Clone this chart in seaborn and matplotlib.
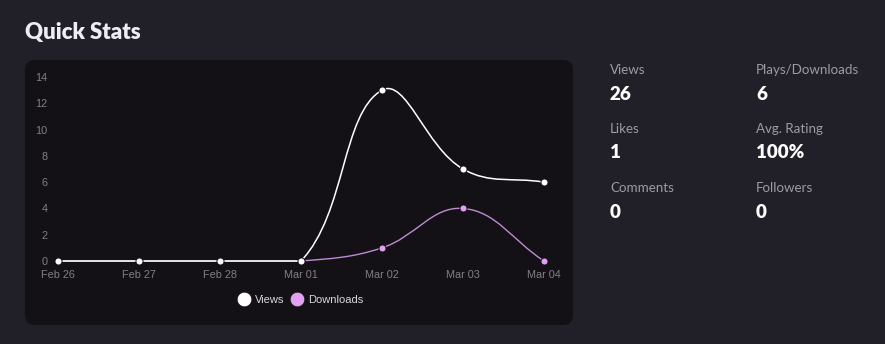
import numpy as np
import pandas as pd
import matplotlib
matplotlib.use("Agg")
import matplotlib.pyplot as plt
import seaborn as sns
from matplotlib.path import Path
from matplotlib.patches import PathPatch, FancyBboxPatch
from matplotlib.lines import Line2D

# ---- data ----
dates = ["Feb 26", "Feb 27", "Feb 28", "Mar 01", "Mar 02", "Mar 03", "Mar 04"]
views = [0, 0, 0, 0, 13, 7, 6]
downloads = [0, 0, 0, 0, 1, 4, 0]
y_ticks = [0, 2, 4, 6, 8, 10, 12, 14]
stat_labels = ["Views", "Likes", "Comments", "Plays/Downloads", "Avg. Rating", "Followers"]
stat_values = ["26", "1", "0", "6", "100%", "0"]

PAGE_BG = "#211f28"
CARD_BG = "#131116"
VIEWS_C = "#ffffff"
DL_POINT = "#e3a0f2"
DL_LINE = "#c08ad2"
TICK_C = "#818086"

sns.set_theme(style="dark")
plt.rcParams["font.family"] = ["Liberation Sans", "DejaVu Sans"]

W, H, DPI = 885, 344, 100
fig = plt.figure(figsize=(W / DPI, H / DPI), dpi=DPI, facecolor=PAGE_BG)

# card background (pixel coords, origin bottom-left)
cx0, cy0, cx1, cy1 = 25, 344 - 325, 573, 344 - 60
card = FancyBboxPatch((cx0 + 10, cy0 + 10), (cx1 - cx0) - 20, (cy1 - cy0) - 20,
                      boxstyle="round,pad=10", transform=None,
                      facecolor=CARD_BG, edgecolor="none", zorder=0)
fig.add_artist(card)

# axes placement
ax_l, ax_r, ax_b, ax_t = 58, 544, 344 - 261, 344 - 77
ax = fig.add_axes([ax_l / W, ax_b / H, (ax_r - ax_l) / W, (ax_t - ax_b) / H])
ax.set_facecolor("none")
ax.set_xlim(0, len(dates) - 1)
ax.set_ylim(0, 14)
for s in ax.spines.values():
    s.set_visible(False)
ax.grid(False)

x = np.arange(len(dates))
sx = (ax_r - ax_l) / (len(dates) - 1)
sy = (ax_t - ax_b) / 14.0


def spline_path(xs, ys, t=0.4):
    px = np.asarray(xs, float) * sx
    py = np.asarray(ys, float) * sy
    n = len(px)
    prev_cp, next_cp = [], []
    for i in range(n):
        p0 = (px[i - 1], py[i - 1]) if i > 0 else (px[i], py[i])
        p1 = (px[i], py[i])
        p2 = (px[i + 1], py[i + 1]) if i < n - 1 else (px[i], py[i])
        d01 = np.hypot(p1[0] - p0[0], p1[1] - p0[1])
        d12 = np.hypot(p2[0] - p1[0], p2[1] - p1[1])
        tot = d01 + d12
        s01 = d01 / tot if tot else 0
        s12 = d12 / tot if tot else 0
        fa, fb = t * s01, t * s12
        pc = [p1[0] - fa * (p2[0] - p0[0]), p1[1] - fa * (p2[1] - p0[1])]
        nc = [p1[0] + fb * (p2[0] - p0[0]), p1[1] + fb * (p2[1] - p0[1])]
        for c in (pc, nc):
            c[0] = min(max(c[0], 0), (n - 1) * sx)
            c[1] = min(max(c[1], 0), 14 * sy)
        prev_cp.append(pc)
        next_cp.append(nc)
    verts = [(px[0] / sx, py[0] / sy)]
    codes = [Path.MOVETO]
    for i in range(n - 1):
        verts += [(next_cp[i][0] / sx, next_cp[i][1] / sy),
                  (prev_cp[i + 1][0] / sx, prev_cp[i + 1][1] / sy),
                  (px[i + 1] / sx, py[i + 1] / sy)]
        codes += [Path.CURVE4] * 3
    return Path(verts, codes)


ax.add_patch(PathPatch(spline_path(x, downloads), facecolor="none",
                       edgecolor=DL_LINE, lw=1.0, zorder=2, clip_on=False))
ax.add_patch(PathPatch(spline_path(x, views), facecolor="none",
                       edgecolor=VIEWS_C, lw=1.1, zorder=4, clip_on=False))

df = pd.DataFrame({"x": np.concatenate([x, x]),
                   "y": views + downloads,
                   "series": ["Views"] * len(x) + ["Downloads"] * len(x)})
sns.scatterplot(data=df[df.series == "Downloads"], x="x", y="y", color=DL_POINT,
                s=26, edgecolor=CARD_BG, linewidth=0.7, ax=ax, zorder=3,
                clip_on=False, legend=False)
sns.scatterplot(data=df[df.series == "Views"], x="x", y="y", color=VIEWS_C,
                s=26, edgecolor=CARD_BG, linewidth=0.7, ax=ax, zorder=5,
                clip_on=False, legend=False)

ax.set_xlabel("")
ax.set_ylabel("")
ax.set_xticks(x)
ax.set_xticklabels(dates)
ax.set_yticks(y_ticks)
ax.set_yticklabels([str(v) for v in y_ticks])
ax.tick_params(axis="both", length=0, colors=TICK_C, labelsize=7.8)
ax.tick_params(axis="x", pad=6.5)
ax.tick_params(axis="y", pad=7.5)

handles = [Line2D([], [], marker="o", ls="none", markersize=10.5, markerfacecolor=VIEWS_C,
                  markeredgecolor=CARD_BG, markeredgewidth=0.5, label="Views"),
           Line2D([], [], marker="o", ls="none", markersize=10.5, markerfacecolor=DL_POINT,
                  markeredgecolor=CARD_BG, markeredgewidth=0.5, label="Downloads")]
leg = fig.legend(handles=handles, loc="center", bbox_to_anchor=(301 / W, 1 - 300 / H),
                 ncol=2, frameon=False, handletextpad=0.55, columnspacing=0.7,
                 handlelength=0.9, fontsize=8, labelcolor="#d8d8dc")

# title
fig.text(25 / W, 1 - 33 / H, "Quick Stats", family="Lato", weight="heavy",
         fontsize=16, color="#eeedf5", va="center", ha="left")

# stats panel
col_x = [610, 756]
rows_y = [(70, 94), (129, 153), (188, 212)]
for i, (lab, val) in enumerate(zip(stat_labels, stat_values)):
    c = i // 3
    r = i % 3
    fig.text(col_x[c] / W, 1 - rows_y[r][0] / H, lab, family="Lato", fontsize=9.6,
             color="#9d9ba3", va="center", ha="left")
    fig.text(col_x[c] / W, 1 - rows_y[r][1] / H, val, family="Lato", weight="heavy",
             fontsize=13.5, color="#ffffff", va="center", ha="left")

fig.savefig("out.png", dpi=DPI, facecolor=PAGE_BG)
